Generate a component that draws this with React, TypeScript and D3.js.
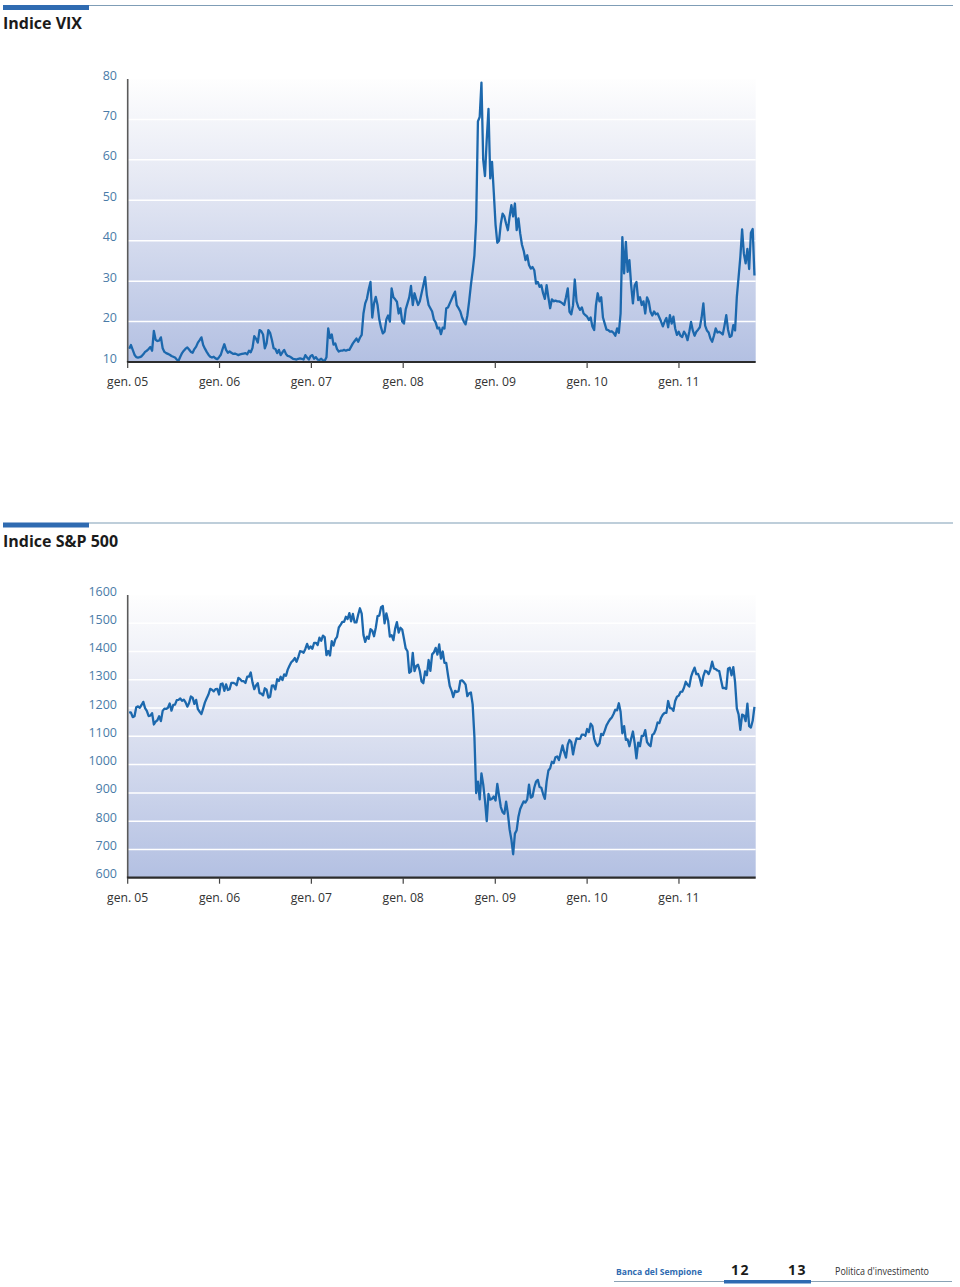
import React from "react";
import * as d3 from "d3";

// ---------- categories / ticks ----------
const xTickYears = [2005, 2006, 2007, 2008, 2009, 2010, 2011];
const xTickLabels = ["gen. 05", "gen. 06", "gen. 07", "gen. 08", "gen. 09", "gen. 10", "gen. 11"];
const vixTicks = [10, 20, 30, 40, 50, 60, 70, 80];
const spxTicks = [600, 700, 800, 900, 1000, 1100, 1200, 1300, 1400, 1500, 1600];

// ---------- VIX, weekly values read from the chart ----------
const vix2005 = [13.3, 14.2, 13, 11.8, 11.2, 11.1, 11.2, 11.4, 11.9, 12.5, 12.8, 13.2, 13.7, 12.8, 17.7, 15.5, 15.2, 15.3, 16.1, 13.4, 12.5, 12.2, 12, 11.8, 11.5, 11.3, 11.1, 10.6, 10.3, 11.3, 12.2, 12.8, 13.3, 13.6, 13.1, 12.5, 12.3, 13.2, 13.8, 14.8, 15.4, 16.1, 14.2, 13.3, 12.5, 11.8, 11.3, 11.1, 11.3, 10.9, 10.7, 11.2];
const vix2006 = [11.8, 13.2, 14.4, 13, 12.3, 12.6, 12.3, 12, 12.1, 11.9, 11.7, 11.9, 12, 12.1, 12.2, 11.9, 12.8, 12.4, 13.5, 16.4, 15.8, 14.8, 17.9, 17.6, 16.8, 13.4, 14.6, 17.9, 17.2, 15.5, 13.4, 13.2, 12.2, 13, 11.7, 12.4, 13, 12, 11.5, 11.4, 11.1, 10.8, 10.7, 10.6, 10.8, 10.9, 10.8, 10.6, 11.7, 11.1, 10.6, 11.5];
const vix2007 = [11.7, 10.8, 11.2, 10.6, 10.5, 10.8, 10.4, 10.3, 11.2, 18.3, 15.9, 16.8, 14.3, 14.6, 13.2, 12.6, 12.8, 12.8, 13, 12.8, 13, 13, 13.8, 14.6, 15.2, 15.8, 15, 16, 16.7, 22, 24.5, 25.7, 28, 29.8, 21, 24.5, 26.1, 24.1, 20.5, 18.5, 17.1, 17.5, 20.5, 21.5, 20, 28.2, 26, 25.5, 24.9, 22, 23.3, 20];
const vix2008 = [19.5, 23, 24.5, 26, 28.8, 24.1, 27, 25.5, 24.1, 25, 27, 29, 31, 26.5, 24.1, 23.3, 22.5, 20.5, 19.8, 18.3, 18.5, 16.9, 18.5, 18.3, 23.3, 23.5, 24.5, 25.5, 26.5, 27.4, 24, 23.3, 22.5, 21, 20, 19.3, 21.5, 25, 29, 32.5, 36.4, 45, 69.5, 70.6, 79.1, 60, 56, 65, 72.6, 55.4, 59.5, 52];
const vix2009 = [44, 39.5, 40, 44.2, 46.7, 46, 44.2, 42.6, 46, 48.8, 46, 49.2, 42.6, 45.5, 41.8, 39, 37.5, 35.2, 36.4, 34, 33.1, 33.5, 32.7, 29.4, 29.8, 28.6, 29, 27, 25.6, 29, 26, 23.3, 25.5, 25, 25.2, 25, 25, 24.8, 24.5, 24.1, 26, 28.2, 22.4, 21.8, 24, 30.4, 25, 23.6, 22.9, 23.5, 22, 21.6];
const vix2010 = [21.2, 20.4, 21, 18.8, 17.9, 24, 27, 25, 26, 21, 19.5, 18, 17.9, 17.5, 17.6, 17.2, 16.5, 18.3, 17.2, 22, 40.9, 31.9, 39.7, 32.3, 35.2, 29, 24.5, 29, 29.8, 25.3, 26, 24.1, 25, 22, 26, 25, 22.4, 21.5, 22.5, 21.8, 22, 21, 20, 18.8, 20, 20.9, 18.6, 21.6, 19.5, 21.2, 18.3, 16.7];
const vix2011 = [17.5, 16.5, 16.2, 17.5, 16.8, 15.4, 17.5, 19.9, 17.8, 16.5, 17.5, 18, 18.6, 21, 24.5, 19, 17.8, 17.3, 15.8, 15, 16.5, 18.3, 17.3, 17.5, 17.2, 16.8, 19, 21.6, 18, 16.2, 16.5, 19.1, 17.8, 26.1, 31, 36, 42.8, 36.8, 34.4, 38, 33, 42, 42.9, 31.4];

// ---------- S&P 500, weekly values read from the chart ----------
const spx2005 = [1186, 1184, 1168, 1171, 1203, 1206, 1201, 1211, 1222, 1200, 1190, 1172, 1173, 1182, 1142, 1152, 1157, 1171, 1154, 1190, 1198, 1197, 1201, 1216, 1191, 1211, 1212, 1228, 1229, 1234, 1226, 1230, 1220, 1205, 1218, 1241, 1237, 1215, 1229, 1196, 1187, 1179, 1199, 1220, 1235, 1248, 1268, 1265, 1259, 1267, 1268, 1248];
const spx2006 = [1285, 1287, 1261, 1284, 1264, 1267, 1289, 1289, 1287, 1281, 1307, 1302, 1295, 1295, 1289, 1311, 1311, 1326, 1291, 1267, 1280, 1288, 1253, 1251, 1245, 1270, 1265, 1237, 1240, 1279, 1280, 1266, 1302, 1296, 1311, 1299, 1319, 1314, 1336, 1350, 1362, 1368, 1377, 1364, 1380, 1401, 1400, 1396, 1409, 1427, 1410, 1418];
const spx2007 = [1410, 1431, 1431, 1423, 1449, 1438, 1456, 1451, 1387, 1402, 1386, 1437, 1421, 1443, 1452, 1485, 1494, 1505, 1505, 1523, 1515, 1536, 1507, 1533, 1503, 1503, 1530, 1553, 1534, 1459, 1434, 1453, 1445, 1479, 1474, 1454, 1484, 1525, 1527, 1557, 1561, 1500, 1535, 1509, 1453, 1458, 1440, 1481, 1504, 1467, 1484, 1478];
const spx2008 = [1445, 1411, 1401, 1325, 1330, 1395, 1331, 1349, 1353, 1331, 1294, 1288, 1330, 1316, 1370, 1332, 1390, 1397, 1413, 1389, 1425, 1375, 1400, 1360, 1360, 1317, 1278, 1262, 1239, 1261, 1257, 1260, 1296, 1298, 1292, 1283, 1242, 1252, 1255, 1213, 1099, 899, 940, 877, 969, 930, 873, 800, 896, 876, 879, 887, 873];
const spx2009 = [932, 890, 850, 832, 826, 869, 827, 770, 735, 683, 756, 768, 816, 843, 857, 870, 866, 877, 929, 883, 887, 919, 940, 946, 921, 918, 896, 879, 940, 979, 987, 1010, 1005, 1026, 1029, 1016, 1042, 1068, 1044, 1025, 1071, 1087, 1080, 1036, 1069, 1093, 1091, 1091, 1106, 1106, 1102, 1126, 1115];
const spx2010 = [1145, 1136, 1092, 1074, 1066, 1075, 1109, 1104, 1120, 1139, 1150, 1160, 1167, 1179, 1194, 1192, 1217, 1187, 1111, 1136, 1088, 1089, 1065, 1092, 1117, 1076, 1022, 1078, 1065, 1102, 1102, 1122, 1080, 1071, 1065, 1105, 1110, 1125, 1149, 1147, 1166, 1177, 1183, 1183, 1225, 1200, 1199, 1190, 1225, 1240, 1244, 1257, 1258];
const spx2011 = [1272, 1293, 1283, 1276, 1310, 1329, 1343, 1320, 1321, 1304, 1279, 1313, 1332, 1329, 1320, 1337, 1364, 1340, 1338, 1333, 1331, 1300, 1271, 1271, 1268, 1339, 1343, 1316, 1345, 1292, 1199, 1178, 1123, 1177, 1174, 1154, 1216, 1136, 1131, 1155, 1204];

const vixValues = [...vix2005, ...vix2006, ...vix2007, ...vix2008, ...vix2009, ...vix2010, ...vix2011];
const spxValues = [...spx2005, ...spx2006, ...spx2007, ...spx2008, ...spx2009, ...spx2010, ...spx2011];

const firstWeek = new Date(2005, 0, 7);
const weekDates = (n: number) => d3.range(n).map((i) => d3.timeDay.offset(firstWeek, 7 * i));

const X0 = 127.7;
const X1 = 755.7;
const xScale = d3.scaleTime().domain([new Date(2005, 0, 1), new Date(2011, 10, 2)]).range([X0, X1]);

const FONT = "'Open Sans', 'DejaVu Sans', sans-serif";

type ChartProps = {
  id: string;
  title: string;
  barY: number;
  titleY: number;
  top: number;
  bottom: number;
  yDomain: [number, number];
  yTicks: number[];
  values: number[];
  xLabelY: number;
};

function Chart({ id, title, barY, titleY, top, bottom, yDomain, yTicks, values, xLabelY }: ChartProps) {
  const y = d3.scaleLinear().domain(yDomain).range([bottom, top]);
  const dates = weekDates(values.length);
  const line = d3
    .line<number>()
    .x((_, i) => xScale(dates[i]))
    .y((d) => y(d));
  const gridTicks = yTicks.slice(1, -1);
  return (
    <g>
      <defs>
        <linearGradient id={id} x1="0" y1="0" x2="0" y2="1">
          <stop offset="0%" stopColor="#fefefe" />
          <stop offset="35%" stopColor="#e6e9f4" />
          <stop offset="100%" stopColor="#b3c0e2" />
        </linearGradient>
      </defs>
      <line x1={89} x2={953} y1={barY + 0.5} y2={barY + 0.5} stroke="#7f9db6" strokeWidth={1.2} />
      <rect x={3} y={barY} width={86} height={5} fill="#2f6bb1" />
      <text x={3} y={titleY} fontFamily={FONT} fontWeight={700} fontSize={16} fill="#1b1b1b">
        {title}
      </text>
      <rect x={X0} y={top} width={X1 - X0} height={bottom - top} fill={`url(#${id})`} />
      {gridTicks.map((t) => (
        <line key={t} x1={X0} x2={X1} y1={y(t)} y2={y(t)} stroke="#ffffff" strokeWidth={1.5} />
      ))}
      <path d={line(values) || ""} fill="none" stroke="#1c68ad" strokeWidth={2.3} strokeLinejoin="round" />
      <line x1={X0} x2={X0} y1={top} y2={bottom} stroke="#5a5a5a" strokeWidth={1.6} />
      <line x1={X0 - 0.8} x2={X1} y1={bottom} y2={bottom} stroke="#2b2b2b" strokeWidth={2.2} />
      {yTicks.map((t) => (
        <text key={t} x={117} y={y(t) + 0.5} textAnchor="end" fontFamily={FONT} fontSize={12.5} fill="#4a7ba8">
          {t}
        </text>
      ))}
      {xTickYears.map((yr, i) => {
        const xx = xScale(new Date(yr, 0, 1));
        return (
          <g key={yr}>
            <line x1={xx} x2={xx} y1={bottom} y2={bottom + 6} stroke="#444" strokeWidth={1.2} />
            <text x={xx} y={xLabelY} textAnchor="middle" fontFamily={FONT} fontSize={12.2} fill="#333">
              {xTickLabels[i]}
            </text>
          </g>
        );
      })}
    </g>
  );
}

export default function App() {
  return (
    <svg
      width={960}
      height={1287}
      viewBox="0 0 960 1287"
      style={{ position: "absolute", left: 0, top: 0, background: "#ffffff" }}
    >
      <rect x={0} y={0} width={960} height={1287} fill="#ffffff" />
      <Chart
        id="gradVix"
        title="Indice VIX"
        barY={5}
        titleY={29}
        top={79}
        bottom={362}
        yDomain={[10, 80]}
        yTicks={vixTicks}
        values={vixValues}
        xLabelY={385.5}
      />
      <Chart
        id="gradSpx"
        title="Indice S&P 500"
        barY={522.5}
        titleY={546.5}
        top={595}
        bottom={877.7}
        yDomain={[600, 1600]}
        yTicks={spxTicks}
        values={spxValues}
        xLabelY={901.5}
      />
      {/* footer */}
      <line x1={614} x2={952} y1={1281.5} y2={1281.5} stroke="#8aa2b5" strokeWidth={1} />
      <rect x={724} y={1280} width={87} height={3.5} fill="#2f6bb1" />
      <text x={616} y={1275} fontFamily={FONT} fontWeight={700} fontSize={9.5} fill="#2f6bb1" textLength={86} lengthAdjust="spacingAndGlyphs">
        Banca del Sempione
      </text>
      <text x={731} y={1275} fontFamily={FONT} fontWeight={700} fontSize={14} fill="#1b1b1b" letterSpacing={1.5}>
        12
      </text>
      <text x={788} y={1275} fontFamily={FONT} fontWeight={700} fontSize={14} fill="#1b1b1b" letterSpacing={1.5}>
        13
      </text>
      <text x={835} y={1275} fontFamily={FONT} fontSize={10} fill="#333" textLength={94} lengthAdjust="spacingAndGlyphs">
        Politica d'investimento
      </text>
    </svg>
  );
}
